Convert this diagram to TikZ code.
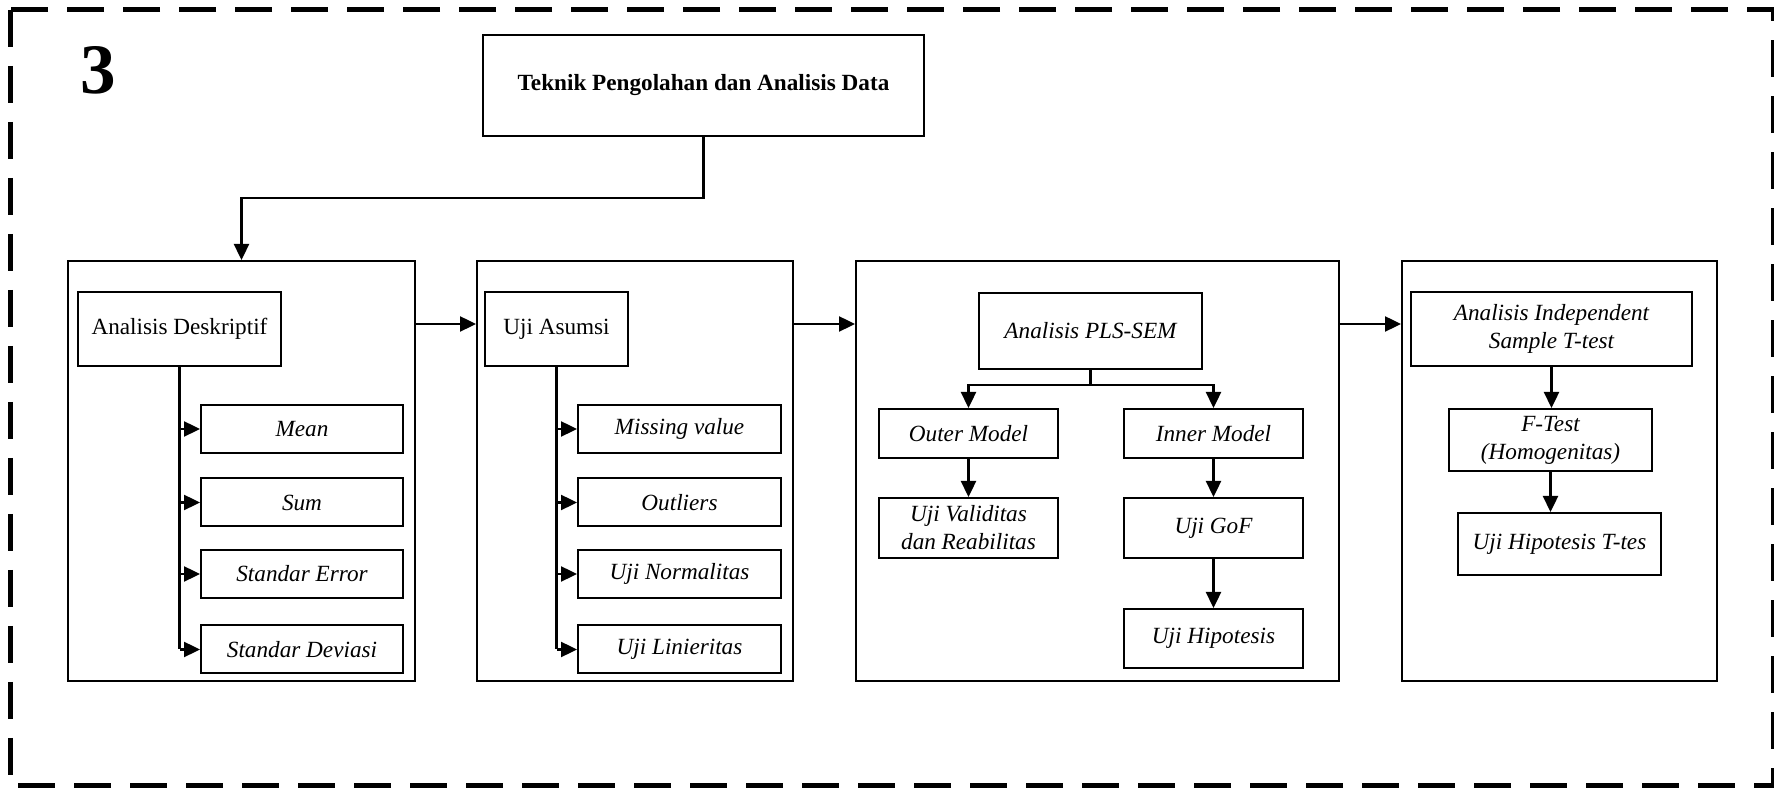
\documentclass[tikz,border=0pt]{standalone}
\usepackage{fontspec}
\setmainfont{Liberation Serif}
\usetikzlibrary{arrows.meta}
\begin{document}
\begin{tikzpicture}[x=0.5pt,y=-0.5pt,
  bx/.style={draw, line width=1pt, inner sep=2pt, align=center,
    font=\fontsize{11.6}{14}\selectfont},
  it/.style={bx, font=\fontsize{11.6}{14}\selectfont\itshape},
  grp/.style={draw, line width=1pt, inner sep=0pt},
  arr/.style={line width=1.2pt, -{Triangle[length=8pt,width=7.5pt]}},
  ln/.style={line width=1.3pt},
  frame/.style={line width=2.5pt, dash pattern=on 18.5pt off 9.5pt}]
\useasboundingbox (0,0) rectangle (1774,790);

% dashed outer frame and section number
\draw[frame] (10,10) rectangle (1773,786);
\node[font=\fontsize{35.5}{40}\selectfont\bfseries, anchor=base, inner sep=0pt] (num) at (98.5,94) {3};

% title
\node[bx, font=\fontsize{11.6}{14}\selectfont\bfseries, minimum width=220.5pt, minimum height=50.5pt] (title) at (703.5,85.5) {Teknik Pengolahan dan Analisis Data};

% group frames
\node[grp, minimum width=173.5pt, minimum height=210pt] (g1) at (241.5,471) {};
\node[grp, minimum width=158pt, minimum height=210pt] (g2) at (635,471) {};
\node[grp, minimum width=241.5pt, minimum height=210pt] (g3) at (1097.5,471) {};
\node[grp, minimum width=157.5pt, minimum height=210pt] (g4) at (1559.5,471) {};

% group 1: descriptive analysis
\node[bx, minimum width=101.5pt, minimum height=37pt] (ad) at (179.5,329) {Analisis Deskriptif};
\node[it, minimum width=101pt, minimum height=24pt] (mean) at (302,429) {Mean};
\node[it, minimum width=101pt, minimum height=24pt] (sum) at (302,502.5) {Sum};
\node[it, minimum width=101pt, minimum height=24pt] (se) at (302,574) {Standar Error};
\node[it, minimum width=101pt, minimum height=24pt] (sd) at (302,649.5) {Standar Deviasi};

% group 2: assumption tests
\node[bx, minimum width=71.5pt, minimum height=37pt] (ua) at (556.5,329) {Uji Asumsi};
\node[it, minimum width=101.5pt, minimum height=24pt] (mv) at (679.5,429) {Missing value};
\node[it, minimum width=101.5pt, minimum height=24pt] (ol) at (679.5,502.5) {Outliers};
\node[it, minimum width=101.5pt, minimum height=24pt] (un) at (679.5,574) {Uji Normalitas};
\node[it, minimum width=101.5pt, minimum height=24pt] (ul) at (679.5,649.5) {Uji Linieritas};

% group 3: PLS-SEM
\node[it, minimum width=111.5pt, minimum height=38pt] (pls) at (1090.5,331) {Analisis PLS-SEM};
\node[it, minimum width=89.5pt, minimum height=24.5pt] (outer) at (968.5,433.5) {Outer Model};
\node[it, minimum width=89.5pt, minimum height=30pt] (uv) at (968.5,528) {Uji Validitas\\dan Reabilitas};
\node[it, minimum width=89.5pt, minimum height=24.5pt] (inner) at (1213.5,433.5) {Inner Model};
\node[it, minimum width=89.5pt, minimum height=30pt] (gof) at (1213.5,528) {Uji GoF};
\node[it, minimum width=89.5pt, minimum height=29.5pt] (hip) at (1213.5,638.5) {Uji Hipotesis};

% group 4: independent sample t-test
\node[it, minimum width=140.5pt, minimum height=37pt] (ait) at (1551.5,329) {Analisis Independent\\Sample T-test};
\node[it, minimum width=101.5pt, minimum height=31pt] (ft) at (1550.5,440) {F-Test\\(Homogenitas)};
\node[it, minimum width=101.5pt, minimum height=31pt] (uht) at (1559.5,544) {Uji Hipotesis T-tes};

% connectors
\coordinate (tbend) at (241.5,198);
\coordinate (row) at (0,324);
\draw[arr] (title.south) |- (tbend) -- (g1.north);
\draw[arr] (g1.east |- row) -- (g2.west |- row);
\draw[arr] (g2.east |- row) -- (g3.west |- row);
\draw[arr] (g3.east |- row) -- (g4.west |- row);

\draw[ln] (ad.south) -- (ad.south |- sd.west);
\foreach \n in {mean,sum,se,sd} \draw[arr] (ad.south |- \n.west) -- (\n.west);
\draw[ln] (ua.south) -- (ua.south |- ul.west);
\foreach \n in {mv,ol,un,ul} \draw[arr] (ua.south |- \n.west) -- (\n.west);

\draw[arr] (pls.south) -- ++(0,15) -| (outer.north);
\draw[arr] (pls.south) -- ++(0,15) -| (inner.north);
\draw[arr] (outer) -- (uv);
\draw[arr] (inner) -- (gof);
\draw[arr] (gof) -- (hip);

\draw[arr] (ait.south) -- (ait.south |- ft.north);
\draw[arr] (ft.south) -- (ft.south |- uht.north);
\end{tikzpicture}
\end{document}
